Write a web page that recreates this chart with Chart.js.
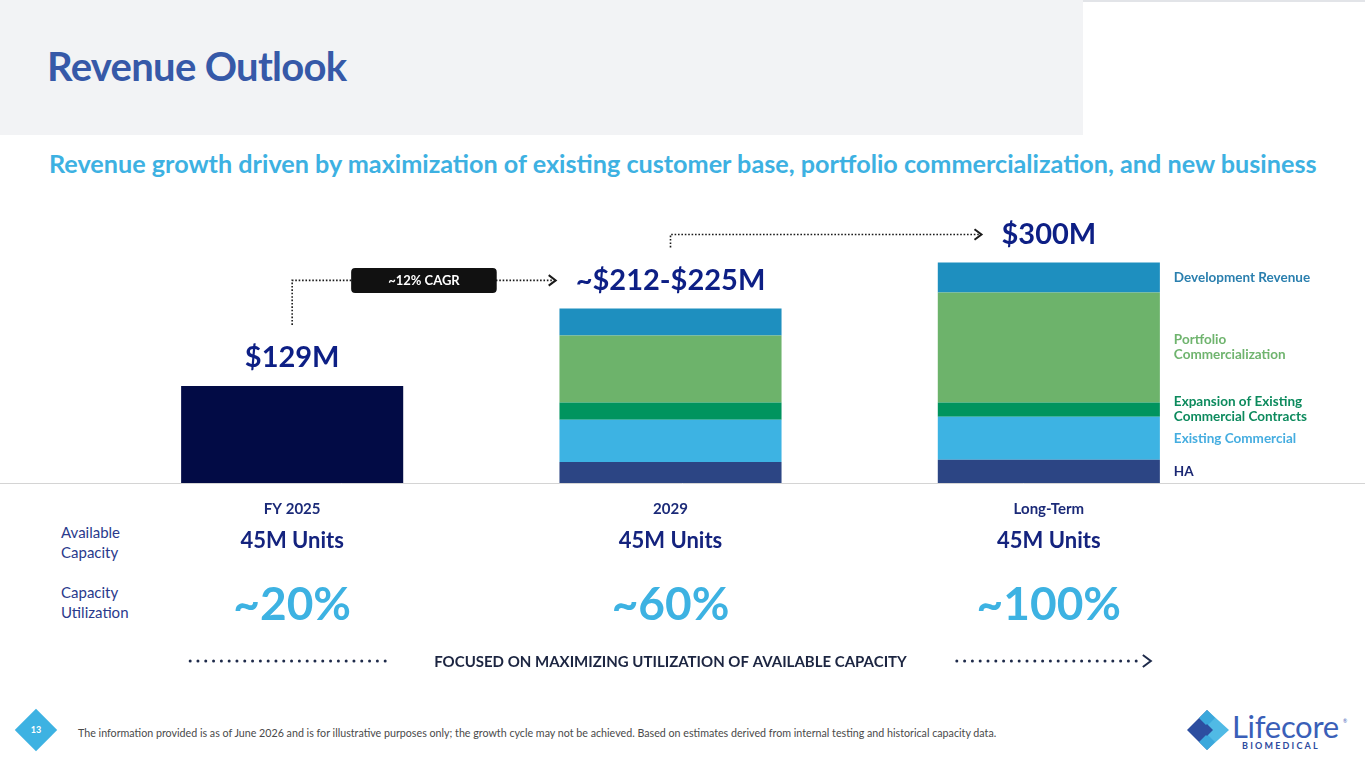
<!DOCTYPE html>
<html>
<head>
<meta charset="utf-8">
<title>Revenue Outlook</title>
<script src="https://cdn.jsdelivr.net/npm/chart.js@4.4.1/dist/chart.umd.min.js"></script>
<style>
  body { margin: 0; width: 1365px; height: 768px; position: relative; overflow: hidden; background: #fff; font-family: Lato, "Noto Sans", sans-serif; }
  .topline { position: absolute; left: 0; top: 0; width: 1365px; height: 2px; background: #e2e4e8; }
  .header { position: absolute; left: 0; top: 0; width: 1083px; height: 135px; background: #f2f3f5; }
  .title { position: absolute; left: 47px; top: 44px; font-size: 40px; line-height: 44px; font-weight: 700; color: #3659a8; letter-spacing: -0.7px; }
  .subtitle { position: absolute; left: 49px; top: 148px; font-size: 25.2px; line-height: 30px; font-weight: 700; color: #3db1e2; letter-spacing: 0; white-space: nowrap; }
  .rowlabel { position: absolute; left: 61px; font-size: 15px; line-height: 20px; color: #2a3a8c; }
  .pagenum { position: absolute; left: 21px; top: 715px; width: 30px; height: 30px; background: #3db2e2; transform: rotate(45deg); }
  .pagenum-text { position: absolute; left: 21px; top: 724px; width: 30px; text-align: center; font-size: 9px; font-weight: 700; color: #fff; }
  .footer { position: absolute; left: 78px; top: 726px; font-size: 10.7px; line-height: 14px; color: #4a4a4a; white-space: nowrap; }
  .logo { position: absolute; left: 1185px; top: 708px; }
  #chart { position: absolute; left: 0; top: 0; }
</style>
</head>
<body>
<div class="topline"></div>
<div class="header"></div>
<div class="title">Revenue Outlook</div>
<div class="subtitle">Revenue growth driven by maximization of existing customer base, portfolio commercialization, and new business</div>
<div class="rowlabel" style="top:522px">Available<br>Capacity</div>
<div class="rowlabel" style="top:582px">Capacity<br>Utilization</div>
<div class="pagenum"></div>
<div class="pagenum-text">13</div>
<div class="footer">The information provided is as of June 2026 and is for illustrative purposes only; the growth cycle may not be achieved. Based on estimates derived from internal testing and historical capacity data.</div>
<svg class="logo" width="178" height="46" viewBox="0 0 178 46">
  <polygon points="2,22 22,2 30,10 18,22 30,34 22,42" fill="#2d4ea0"/>
  <polygon points="22,2 44,22 22,42 14,34 26,22 14,10" fill="#3db2e2" opacity="0.9"/>
  <polygon points="22,16 28,22 22,28 16,22" fill="#2d4ea0"/>
  <text x="47" y="30" font-family="Lato, sans-serif" font-size="31" fill="#3a5fb8" letter-spacing="-0.3">Lifecore</text>
  <text x="158" y="15" font-family="Lato, sans-serif" font-size="5" fill="#3a5fb8">®</text>
  <text x="57" y="41" font-family="Lato, sans-serif" font-size="9" font-weight="700" fill="#2d4a9e" letter-spacing="2.2">BIOMEDICAL</text>
</svg>
<canvas id="chart" width="1365" height="768"></canvas>
<script>
// categories and values ($M)
const categories = ['FY 2025', '2029', 'Long-Term'];
const fy2025Revenue = [129, null, null];
const haRevenue = [null, 28, 31];
const existingCommercial = [null, 56, 57];
const expansionContracts = [null, 23, 19];
const portfolioCommercialization = [null, 89, 146];
const developmentRevenue = [null, 36, 40];

// text shown round the bars
const totalLabels = ['$129M', '~$212-$225M', '$300M'];
const capacityUnits = ['45M Units', '45M Units', '45M Units'];
const utilization = ['~20%', '~60%', '~100%'];
const cagrLabel = '~12% CAGR';
const focusText = 'FOCUSED ON MAXIMIZING UTILIZATION OF AVAILABLE CAPACITY';

const FONT = 'Lato, "Noto Sans", sans-serif';

const datasets = [
    { label: 'FY 2025', data: fy2025Revenue, backgroundColor: '#020b45', side: null },
    { label: 'HA', data: haRevenue, backgroundColor: '#2c4584', side: ['HA'], sideColor: '#1b2773' },
    { label: 'Existing Commercial', data: existingCommercial, backgroundColor: '#3db3e3', side: ['Existing Commercial'], sideColor: '#45ade0' },
    { label: 'Expansion of Existing Commercial Contracts', data: expansionContracts, backgroundColor: '#00945e', side: ['Expansion of Existing', 'Commercial Contracts'], sideColor: '#0c8a5d' },
    { label: 'Portfolio Commercialization', data: portfolioCommercialization, backgroundColor: '#6db36b', side: ['Portfolio', 'Commercialization'], sideColor: '#6fb46e' },
    { label: 'Development Revenue', data: developmentRevenue, backgroundColor: '#1e8fbf', side: ['Development Revenue'], sideColor: '#2a7fae' }
];

function dotted(ctx, pts) {
    ctx.save();
    ctx.strokeStyle = '#1a1a1a';
    ctx.lineWidth = 1.6;
    ctx.setLineDash([1.6, 1.8]);
    ctx.beginPath();
    ctx.moveTo(pts[0][0], pts[0][1]);
    for (let i = 1; i < pts.length; i++) ctx.lineTo(pts[i][0], pts[i][1]);
    ctx.stroke();
    ctx.restore();
}

function chevron(ctx, x, y, color, size) {
    ctx.save();
    ctx.strokeStyle = color;
    ctx.lineWidth = 2;
    ctx.beginPath();
    ctx.moveTo(x - size, y - size * 0.75);
    ctx.lineTo(x, y);
    ctx.lineTo(x - size, y + size * 0.75);
    ctx.stroke();
    ctx.restore();
}

function dots(ctx, x1, x2, y) {
    ctx.save();
    ctx.fillStyle = '#1e2a4a';
    for (let x = x1; x <= x2; x += 7.8) {
        ctx.beginPath();
        ctx.arc(x, y, 1.5, 0, Math.PI * 2);
        ctx.fill();
    }
    ctx.restore();
}

const overlay = {
    id: 'overlay',
    beforeDatasetsDraw(chart) {
        const ctx = chart.ctx;
        const y0 = chart.scales.y.getPixelForValue(0);
        ctx.save();
        ctx.strokeStyle = '#d4d4d4';
        ctx.lineWidth = 1;
        ctx.beginPath();
        ctx.moveTo(0, Math.round(y0) + 0.5);
        ctx.lineTo(chart.width, Math.round(y0) + 0.5);
        ctx.stroke();
        ctx.restore();
    },
    afterDatasetsDraw(chart) {
        const ctx = chart.ctx;
        const x = chart.scales.x, y = chart.scales.y;
        const y0 = y.getPixelForValue(0);
        const cx = categories.map((c, i) => x.getPixelForValue(i));
        const totals = categories.map((c, i) => datasets.reduce((s, d) => s + (d.data[i] || 0), 0));
        const labelY = totals.map(t => y.getPixelForValue(t) - 28);

        // totals above bars
        ctx.save();
        ctx.font = '700 29px ' + FONT;
        ctx.fillStyle = '#0d1f85';
        ctx.textAlign = 'center';
        ctx.textBaseline = 'middle';
        totalLabels.forEach((t, i) => ctx.fillText(t, cx[i], labelY[i]));
        const widths = totalLabels.map(t => ctx.measureText(t).width);
        ctx.restore();

        // growth arrows
        for (let i = 0; i < categories.length - 1; i++) {
            const endX = cx[i + 1] - widths[i + 1] / 2 - 20;
            const endY = labelY[i + 1];
            dotted(ctx, [[cx[i], labelY[i] - 33], [cx[i], endY], [endX - 2, endY]]);
            chevron(ctx, endX, endY, '#1a1a1a', 7);
            if (i === 0) {
                const bx = (cx[i] + endX) / 2;
                ctx.save();
                ctx.font = '700 13px ' + FONT;
                const bw = ctx.measureText(cagrLabel).width + 74;
                ctx.fillStyle = '#111';
                ctx.beginPath();
                ctx.roundRect(bx - bw / 2, endY - 12.5, bw, 25, 4);
                ctx.fill();
                ctx.fillStyle = '#fff';
                ctx.textAlign = 'center';
                ctx.textBaseline = 'middle';
                ctx.fillText(cagrLabel, bx, endY);
                ctx.restore();
            }
        }

        // segment names to the right of the last bar
        const last = categories.length - 1;
        ctx.save();
        ctx.font = '700 13.5px ' + FONT;
        ctx.textAlign = 'left';
        ctx.textBaseline = 'middle';
        datasets.forEach((d, k) => {
            if (!d.side) return;
            const el = chart.getDatasetMeta(k).data[last];
            const mid = (el.y + el.base) / 2;
            const lx = el.x + el.width / 2 + 14;
            ctx.fillStyle = d.sideColor;
            d.side.forEach((line, j) => ctx.fillText(line, lx, mid + (j - (d.side.length - 1) / 2) * 15));
        });
        ctx.restore();

        // capacity rows
        ctx.save();
        ctx.textAlign = 'center';
        ctx.textBaseline = 'middle';
        ctx.font = '700 22px ' + FONT;
        ctx.fillStyle = '#14237e';
        capacityUnits.forEach((t, i) => ctx.fillText(t, cx[i], y0 + 58));
        ctx.font = '700 46px ' + FONT;
        ctx.fillStyle = '#3db2e2';
        utilization.forEach((t, i) => ctx.fillText(t, cx[i], y0 + 122));

        // focus line
        const fx = (cx[0] + cx[last]) / 2, fy = y0 + 179;
        ctx.font = '700 15px ' + FONT;
        ctx.fillStyle = '#1c2541';
        ctx.fillText(focusText, fx, fy);
        const fw = ctx.measureText(focusText).width;
        ctx.restore();
        dots(ctx, cx[0] - 102, fx - fw / 2 - 48, fy - 1);
        dots(ctx, fx + fw / 2 + 50, cx[last] + 93, fy - 1);
        chevron(ctx, cx[last] + 102, fy - 1, '#1e2a4a', 8);
    }
};

new Chart(document.getElementById('chart'), {
    type: 'bar',
    data: { labels: categories, datasets: datasets },
    options: {
        responsive: false,
        animation: false,
        layout: { padding: { left: 103, right: 127, top: 182, bottom: 245 } },
        datasets: { bar: { barPercentage: 0.587, categoryPercentage: 1, borderWidth: 0, grouped: false } },
        plugins: { legend: { display: false }, tooltip: { enabled: false } },
        scales: {
            x: {
                stacked: true,
                grid: { display: false, drawTicks: false },
                border: { display: false },
                ticks: { padding: 17, color: '#1b2a78', font: { family: FONT, size: 15, weight: '700' } },
                afterFit(axis) { axis.height = 40; }
            },
            y: { stacked: true, display: false, min: 0, max: 400 }
        }
    },
    plugins: [overlay]
});
</script>
</body>
</html>
